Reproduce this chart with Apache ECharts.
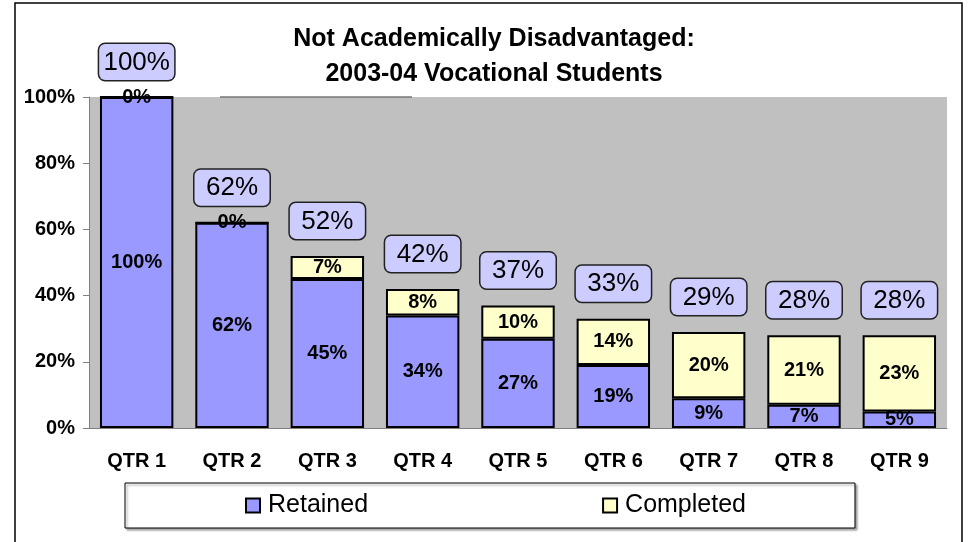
<!DOCTYPE html>
<html>
<head>
<meta charset="utf-8">
<title>Not Academically Disadvantaged</title>
<script src="https://cdn.jsdelivr.net/npm/echarts@6/dist/echarts.min.js"></script>
<style>
  html, body { margin: 0; padding: 0; background: #fff; }
  #main { width: 970px; height: 542px; }
</style>
</head>
<body>
<div id="main"></div>
<script type="text/javascript">
// chart data
var quarters = ['QTR 1', 'QTR 2', 'QTR 3', 'QTR 4', 'QTR 5', 'QTR 6', 'QTR 7', 'QTR 8', 'QTR 9'];
var retained = [100, 62, 45, 34, 27, 19, 9, 7, 5];
var completed = [0, 0, 7, 8, 10, 14, 20, 21, 23];
var totals = [100, 62, 52, 42, 37, 33, 29, 28, 28];
var yTicks = [0, 20, 40, 60, 80, 100];

var font = 'Liberation Sans, Arial, sans-serif';
var myChart = echarts.init(document.getElementById('main'));

var option = {
    backgroundColor: '#fff',
    animation: false,
    title: {
        text: 'Not Academically Disadvantaged:\n2003-04 Vocational Students',
        left: 489,
        textAlign: 'center',
        top: 17,
        textStyle: {
            fontFamily: font,
            fontSize: 25,
            fontWeight: 'bold',
            color: '#000',
            lineHeight: 35
        }
    },
    legend: {
        left: 125,
        top: 483,
        data: ['Retained', 'Completed'],
        padding: [10, 109, 10, 120],
        itemGap: 234,
        itemWidth: 14,
        itemHeight: 14,
        icon: 'rect',
        borderColor: '#000',
        borderWidth: 1,
        backgroundColor: '#fff',
        shadowColor: 'rgba(0,0,0,0.35)',
        shadowOffsetX: 2,
        shadowOffsetY: 2,
        shadowBlur: 2,
        textStyle: {
            fontFamily: font,
            fontSize: 25,
            color: '#000',
            padding: [2, 0, 0, 3]
        }
    },
    grid: {
        left: 89,
        right: 23,
        top: 97,
        bottom: 114,
        show: true,
        backgroundColor: '#C0C0C0',
        borderWidth: 0
    },
    xAxis: {
        type: 'category',
        data: quarters,
        axisLine: { lineStyle: { color: '#808080', width: 1 } },
        axisTick: { length: 6, lineStyle: { color: '#808080' } },
        axisLabel: {
            margin: 23,
            fontFamily: font,
            fontSize: 20,
            fontWeight: 'bold',
            color: '#000'
        }
    },
    yAxis: {
        type: 'value',
        min: yTicks[0],
        max: yTicks[yTicks.length - 1],
        interval: 20,
        splitLine: { show: false },
        axisLine: { show: true, lineStyle: { color: '#808080', width: 1 } },
        axisTick: { show: true, length: 6, lineStyle: { color: '#808080' } },
        axisLabel: {
            margin: 14,
            fontFamily: font,
            fontSize: 20,
            fontWeight: 'bold',
            color: '#000',
            formatter: '{value}%'
        }
    },
    series: [
        {
            name: 'Retained',
            type: 'bar',
            stack: 'all',
            barWidth: '77%',
            data: retained,
            itemStyle: { color: '#9999FF', borderColor: '#000', borderWidth: 2 },
            label: {
                show: true,
                position: 'inside',
                formatter: '{c}%',
                fontFamily: font,
                fontSize: 20,
                fontWeight: 'bold',
                color: '#000'
            }
        },
        {
            name: 'Completed',
            type: 'bar',
            stack: 'all',
            data: completed,
            itemStyle: { color: '#FFFFCC', borderColor: '#000', borderWidth: 2 },
            label: {
                show: true,
                position: 'inside',
                formatter: '{c}%',
                fontFamily: font,
                fontSize: 20,
                fontWeight: 'bold',
                color: '#000'
            }
        },
        {
            name: 'Total',
            type: 'bar',
            stack: 'all',
            data: totals.map(function () { return 0; }),
            itemStyle: { color: 'transparent', borderWidth: 0 },
            silent: true,
            label: {
                show: true,
                position: 'top',
                distance: 17,
                formatter: function (p) { return totals[p.dataIndex] + '%'; },
                fontFamily: font,
                fontSize: 26,
                lineHeight: 27,
                color: '#000',
                backgroundColor: '#CCCCFF',
                borderColor: '#222',
                borderWidth: 1.5,
                borderRadius: 6,
                width: 67,
                align: 'center',
                padding: [5, 4, 4, 4]
            }
        }
    ],
    graphic: [
        {
            type: 'rect',
            shape: { x: 15, y: 3, width: 947, height: 560 },
            style: { fill: 'none', stroke: '#000', lineWidth: 1.5 },
            z: 100
        },
        {
            type: 'line',
            shape: { x1: 220, y1: 97, x2: 412, y2: 97 },
            style: { stroke: '#777', lineWidth: 1.5 },
            z: 100
        }
    ]
};

myChart.setOption(option);
</script>
</body>
</html>
